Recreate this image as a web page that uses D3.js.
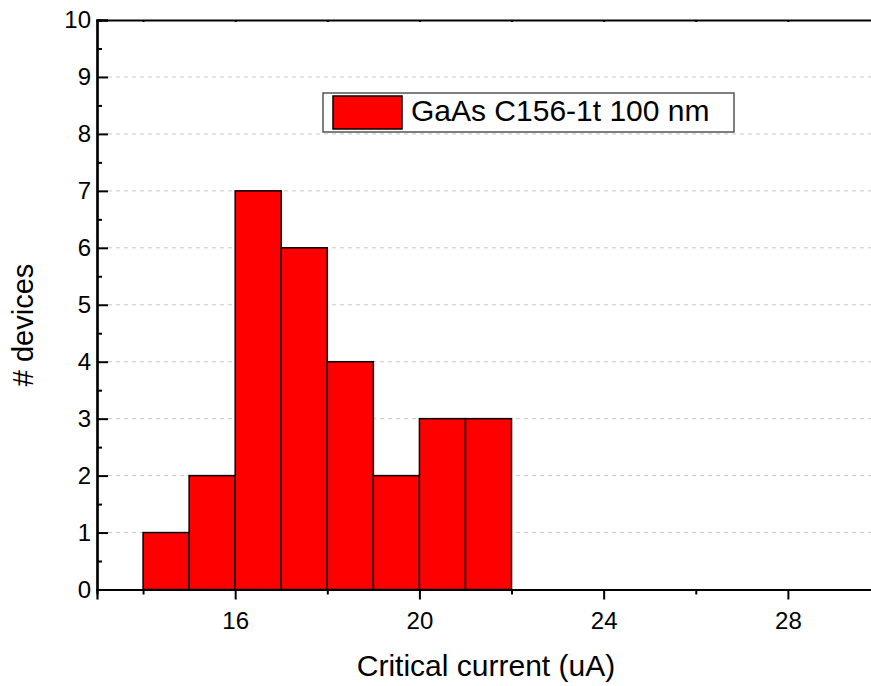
<!DOCTYPE html>
<html>
<head>
<meta charset="utf-8">
<script src="https://cdn.jsdelivr.net/npm/d3@7"></script>
<style>
  html, body { margin: 0; padding: 0; background: #fff; }
  svg { display: block; font-family: Arial, "Liberation Sans", sans-serif; }
</style>
</head>
<body>
<svg id="chart" width="871" height="686"></svg>
<script>
// Histogram bins: left edge, right edge and device count
const binStarts = [14, 15, 16, 17, 18, 19, 20, 21];
const binEnds   = [15, 16, 17, 18, 19, 20, 21, 22];
const counts    = [1, 2, 7, 6, 4, 2, 3, 3];

const xMajorTicks = [16, 20, 24, 28];
const xMinorTicks = [14, 18, 22, 26, 30];
const yMajorTicks = [0, 1, 2, 3, 4, 5, 6, 7, 8, 9, 10];
const yMinorTicks = [0.5, 1.5, 2.5, 3.5, 4.5, 5.5, 6.5, 7.5, 8.5, 9.5];

const seriesName = "GaAs C156-1t 100 nm";
const xTitle = "Critical current (uA)";
const yTitle = "# devices";

const svg = d3.select("#chart");
const plotLeft = 97, plotRight = 880, plotTop = 20, plotBottom = 589.5;

const x = d3.scaleLinear().domain([13, 30]).range([plotLeft, plotRight]);
const y = d3.scaleLinear().domain([0, 10]).range([plotBottom, plotTop]);

// dashed horizontal grid
svg.append("g")
  .selectAll("line")
  .data(yMajorTicks.filter(v => v > 0 && v < 10))
  .join("line")
  .attr("x1", plotLeft + 11).attr("x2", 871)
  .attr("y1", d => y(d)).attr("y2", d => y(d))
  .attr("stroke", "#c8c8c8").attr("stroke-width", 1)
  .attr("stroke-dasharray", "4,4");

// bars
const bins = binStarts.map((s, i) => ({ x0: s, x1: binEnds[i], n: counts[i] }));
svg.append("g")
  .selectAll("rect")
  .data(bins)
  .join("rect")
  .attr("x", d => x(d.x0))
  .attr("y", d => y(d.n))
  .attr("width", d => x(d.x1) - x(d.x0))
  .attr("height", d => y(0) - y(d.n))
  .attr("fill", "#ff0000")
  .attr("stroke", "#000")
  .attr("stroke-width", 1.5);

// bottom axis: major ticks with labels, minor ticks without
svg.append("g").attr("transform", `translate(0,${plotBottom})`)
  .call(d3.axisBottom(x).tickValues(xMajorTicks).tickSize(10).tickPadding(12).tickFormat(d3.format("d")));
svg.append("g").attr("transform", `translate(0,${plotBottom})`)
  .call(d3.axisBottom(x).tickValues(xMinorTicks).tickSize(5).tickFormat(""));

// left axis: ticks point into the plot
svg.append("g").attr("transform", `translate(${plotLeft},0)`)
  .call(d3.axisLeft(y).tickValues(yMajorTicks).tickSize(-11).tickPadding(6).tickFormat(d3.format("d")));
svg.append("g").attr("transform", `translate(${plotLeft},0)`)
  .call(d3.axisLeft(y).tickValues(yMinorTicks).tickSize(-5).tickFormat(""));

// top axis with short inward ticks
svg.append("g").attr("transform", `translate(0,${plotTop})`)
  .call(d3.axisTop(x).tickValues(xMajorTicks.concat(xMinorTicks)).tickSize(-2).tickFormat(""));

svg.selectAll(".domain").attr("stroke", "#000").attr("stroke-width", 2.2);
svg.selectAll(".tick line").attr("stroke", "#000").attr("stroke-width", 2);
svg.selectAll(".tick text").attr("fill", "#000").attr("font-size", 24)
  .attr("font-family", "Arial, 'Liberation Sans', sans-serif");

// axis titles
svg.append("text")
  .attr("x", 486).attr("y", 676)
  .attr("text-anchor", "middle")
  .attr("font-size", 30)
  .text(xTitle);

svg.append("text")
  .attr("transform", "translate(33,325) rotate(-90)")
  .attr("text-anchor", "middle")
  .attr("font-size", 29)
  .text(yTitle);

// legend
const lg = svg.append("g");
lg.append("rect")
  .attr("x", 323).attr("y", 93).attr("width", 411).attr("height", 39)
  .attr("fill", "#fff").attr("stroke", "#555").attr("stroke-width", 1.5);
lg.append("rect")
  .attr("x", 333).attr("y", 96).attr("width", 69).attr("height", 33)
  .attr("fill", "#ff0000").attr("stroke", "#000").attr("stroke-width", 1.5);
lg.append("text")
  .attr("x", 411).attr("y", 121)
  .attr("font-size", 30)
  .text(seriesName);
</script>
</body>
</html>
